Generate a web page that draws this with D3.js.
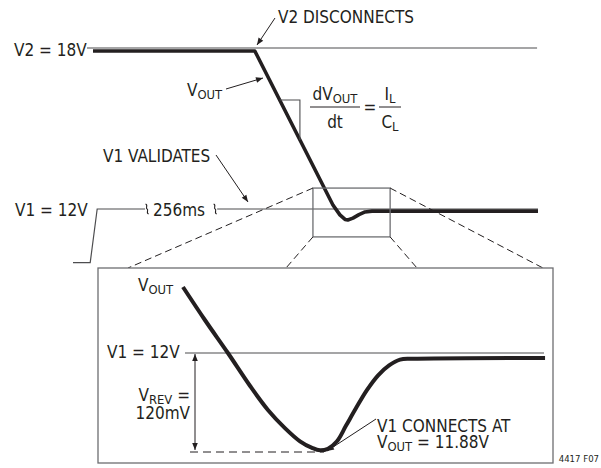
<!DOCTYPE html>
<html>
<head>
<meta charset="utf-8">
<script src="https://cdn.jsdelivr.net/npm/d3@7"></script>
<style>
  body { margin: 0; background: #fff; }
  text { font-family: "DejaVu Sans Condensed", "Liberation Sans Narrow", sans-serif; fill: #231f20; }
</style>
</head>
<body>
<div id="chart"></div>
<script>
// top trace: time (arbitrary units) vs volts
const vOutTime = [4.3, 39.1, 55.9, 57.4, 58.5, 59.1, 60.2, 61.5, 62.8, 64.3, 100]
const vOutVolts = [17.89, 17.89, 12.15, 11.78, 11.61, 11.59, 11.66, 11.79, 11.89, 11.92, 11.92]
// V1 input: step up then 256ms validation
const v1Time = [0, 3.7, 5.2, 15.5]
const v1Volts = [10, 10, 12, 12]
const v1ValidTime = [31, 100]
const v2Time = [3, 99.8]
const v2Level = 18
const v1Level = 12
// zoomed detail of the dip
const zoomTime = [54.7, 55.5, 56.34, 57.15, 57.8, 58.42, 58.97, 59.41, 59.7, 59.99, 60.32, 60.65, 61.01, 61.41, 61.82, 62.22, 62.62, 63.06, 67.91]
const zoomVolts = [12.08, 12.04, 12.0, 11.96, 11.931, 11.909, 11.893, 11.885, 11.882, 11.884, 11.893, 11.912, 11.933, 11.955, 11.973, 11.985, 11.992, 11.993, 11.994]
const zoomBox = { t0: 51.6, t1: 68.2, v0: 10.96, v1: 12.78 }
const vMin = 11.88

const width = 601
const height = 468
const ink = '#231f20'
const thin = '#4d4d4f'
const fs = 17

const svg = d3.select('#chart')
  .append('svg')
  .attr('width', width)
  .attr('height', height)

const defs = svg.append('defs')
defs.append('marker')
  .attr('id', 'arrow')
  .attr('viewBox', '0 -5 10 10')
  .attr('refX', 10)
  .attr('refY', 0)
  .attr('markerUnits', 'userSpaceOnUse')
  .attr('markerWidth', 10)
  .attr('markerHeight', 7)
  .attr('orient', 'auto-start-reverse')
  .append('path')
  .attr('d', 'M0,-4L10,0L0,4Z')
  .attr('fill', ink)

const xTop = d3.scaleLinear().domain([0, 100]).range([73, 538])
const yTop = d3.scaleLinear().domain([12, 18]).range([209, 48])

const xZoom = d3.scaleLinear().domain([zoomBox.t0, zoomBox.t1]).range([98, 553])
const yZoom = d3.scaleLinear().domain([vMin, 12]).range([452, 353])

const line = d3.line()

function label (g, x, y, parts, opts = {}) {
  const size = opts.size || fs
  const t = g.append('text')
    .attr('x', x)
    .attr('y', y)
    .attr('font-size', size)
    .attr('text-anchor', opts.anchor || 'start')
  parts.forEach(p => {
    const s = t.append('tspan').text(p.text)
    if (p.sub) s.attr('font-size', size * 0.76).attr('dy', 3)
    if (p.back) s.attr('dy', -3)
  })
  return t
}

// ---- top panel
const topG = svg.append('g')

// thin reference lines
topG.append('path')
  .attr('d', line(v2Time.map(t => [xTop(t), yTop(v2Level)])))
  .attr('stroke', thin).attr('stroke-width', 1.2).attr('fill', 'none')
topG.append('path')
  .attr('d', line(v1Time.map((t, i) => [xTop(t), yTop(v1Volts[i])])))
  .attr('stroke', thin).attr('stroke-width', 1.2).attr('fill', 'none')
topG.append('path')
  .attr('d', line(v1ValidTime.map(t => [xTop(t), yTop(v1Level)])))
  .attr('stroke', thin).attr('stroke-width', 1.2).attr('fill', 'none')

// break marks around 256ms
const breakMark = 'M-1.5,-5 C1.5,-4 -2,-1 0,0 C2,1 -1.5,4 1.5,5'
;[xTop(15.5) + 2, xTop(31) - 2].forEach(x => {
  topG.append('path')
    .attr('d', breakMark)
    .attr('transform', `translate(${x},${yTop(v1Level)})`)
    .attr('stroke', ink).attr('stroke-width', 1.1).attr('fill', 'none')
})

// VOUT trace
topG.append('path')
  .attr('d', d3.line().curve(d3.curveLinear)(vOutTime.map((t, i) => [xTop(t), yTop(vOutVolts[i])])))
  .attr('stroke', ink).attr('stroke-width', 3.6).attr('fill', 'none')
  .attr('stroke-linejoin', 'round')

// slope triangle
const p1 = [xTop(vOutTime[1]), yTop(vOutVolts[1])]
const p2 = [xTop(vOutTime[2]), yTop(vOutVolts[2])]
const k = (p2[0] - p1[0]) / (p2[1] - p1[1])
const triTop = yTop(16.06)
const triX = xTop(48.8)
topG.append('path')
  .attr('d', line([[p1[0] + (triTop - p1[1]) * k, triTop], [triX, triTop], [triX, p1[1] + (triX - p1[0]) / k]]))
  .attr('stroke', thin).attr('stroke-width', 1.1).attr('fill', 'none')

// zoom box + dashed leaders
const bx0 = xTop(zoomBox.t0), bx1 = xTop(zoomBox.t1)
const by0 = yTop(zoomBox.v1), by1 = yTop(zoomBox.v0)
topG.append('rect')
  .attr('x', bx0).attr('y', by0)
  .attr('width', bx1 - bx0).attr('height', by1 - by0)
  .attr('fill', 'none').attr('stroke', '#6d6e71').attr('stroke-width', 1.3)

const panel = { x: 98, y: 268, w: 455, h: 195 }
const leaders = [
  [[bx0, by0], [128, panel.y]],
  [[bx0, by1], [286, panel.y]],
  [[bx1, by0], [543, panel.y]],
  [[bx1, by1], [417, panel.y]]
]
leaders.forEach(l => {
  topG.append('path')
    .attr('d', line(l))
    .attr('stroke', ink).attr('stroke-width', 1).attr('stroke-dasharray', '7,4').attr('fill', 'none')
})

// labels
label(topG, 14, 56, [{ text: 'V2 = 18V' }])
label(topG, 15, 216, [{ text: 'V1 = 12V' }])
label(topG, 153, 216, [{ text: '256ms' }])
label(topG, 278, 23, [{ text: 'V2 DISCONNECTS' }])
label(topG, 103, 162, [{ text: 'V1 VALIDATES' }])
label(topG, 187, 96, [{ text: 'V' }, { text: 'OUT', sub: true }])

topG.append('path').attr('d', line([[275, 18], [257, 45]]))
  .attr('stroke', ink).attr('stroke-width', 1).attr('marker-end', 'url(#arrow)')
topG.append('path').attr('d', line([[226, 89], [263, 78]]))
  .attr('stroke', ink).attr('stroke-width', 1).attr('marker-end', 'url(#arrow)')
topG.append('path').attr('d', line([[216, 155], [248, 202]]))
  .attr('stroke', ink).attr('stroke-width', 1).attr('marker-end', 'url(#arrow)')

// dVout/dt = IL/CL
const eq = topG.append('g')
label(eq, 335, 100, [{ text: 'dV' }, { text: 'OUT', sub: true }], { anchor: 'middle' })
label(eq, 335, 128, [{ text: 'dt' }], { anchor: 'middle' })
label(eq, 370, 113, [{ text: '=' }], { anchor: 'middle' })
label(eq, 390, 100, [{ text: 'I' }, { text: 'L', sub: true }], { anchor: 'middle' })
label(eq, 390, 128, [{ text: 'C' }, { text: 'L', sub: true }], { anchor: 'middle' })
eq.append('path').attr('d', line([[310, 107], [360, 107]])).attr('stroke', ink).attr('stroke-width', 1)
eq.append('path').attr('d', line([[379, 107], [401, 107]])).attr('stroke', ink).attr('stroke-width', 1)

// ---- zoom panel
const bot = svg.append('g')
bot.append('rect')
  .attr('x', panel.x).attr('y', panel.y)
  .attr('width', panel.w).attr('height', panel.h)
  .attr('fill', '#fff').attr('stroke', '#6d6e71').attr('stroke-width', 1.3)

bot.append('path')
  .attr('d', line([[185, yZoom(12)], [544, yZoom(12)]]))
  .attr('stroke', thin).attr('stroke-width', 1.2)

bot.append('path')
  .attr('d', line([[190, yZoom(vMin)], [xZoom(59.7) + 4, yZoom(vMin)]]))
  .attr('stroke', ink).attr('stroke-width', 1).attr('stroke-dasharray', '8,5')

bot.append('path')
  .attr('d', d3.line().curve(d3.curveCatmullRom)(zoomTime.map((t, i) => [xZoom(t), yZoom(zoomVolts[i])])))
  .attr('stroke', ink).attr('stroke-width', 4).attr('fill', 'none').attr('stroke-linecap', 'butt')

// VREV double arrow
bot.append('path')
  .attr('d', line([[195, yZoom(12) + 1], [195, yZoom(vMin) - 2]]))
  .attr('stroke', ink).attr('stroke-width', 1)
  .attr('marker-start', 'url(#arrow)').attr('marker-end', 'url(#arrow)')

bot.append('path').attr('d', line([[376, 419], [327, 451]]))
  .attr('stroke', ink).attr('stroke-width', 1).attr('marker-end', 'url(#arrow)')

label(bot, 138, 291, [{ text: 'V' }, { text: 'OUT', sub: true }])
label(bot, 107, 358, [{ text: 'V1 = 12V' }])
label(bot, 190, 401, [{ text: 'V' }, { text: 'REV', sub: true }, { text: ' =', back: true }], { anchor: 'end' })
label(bot, 190, 419, [{ text: '120mV' }], { anchor: 'end' })
label(bot, 377, 432, [{ text: 'V1 CONNECTS AT' }])
label(bot, 377, 448, [{ text: 'V' }, { text: 'OUT', sub: true }, { text: ' = 11.88V', back: true }])

label(svg, 599, 462, [{ text: '4417 F07' }], { size: 9.5, anchor: 'end' })
</script>
</body>
</html>
